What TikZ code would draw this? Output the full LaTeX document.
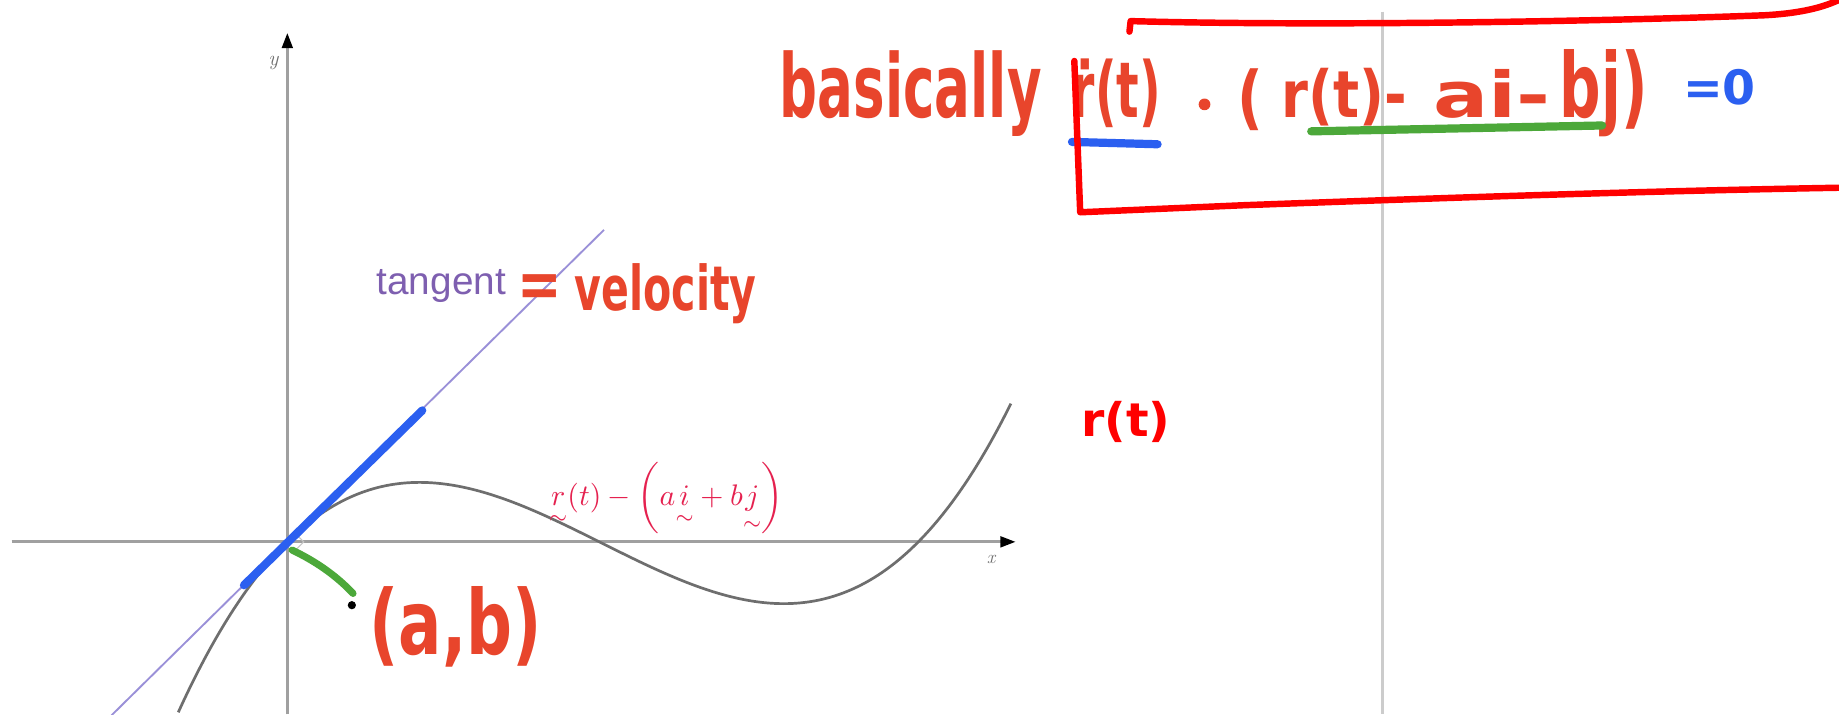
\documentclass[tikz,border=0pt]{standalone}
\usepackage{amsmath}
\usepackage{graphicx}
\usepackage{fontspec}
\usetikzlibrary{arrows.meta}
\newfontfamily\handfont{DejaVu Sans}
\newfontfamily\arialfont{Liberation Sans}
\definecolor{handred}{HTML}{E8452C}
\definecolor{boxred}{HTML}{FF0000}
\definecolor{penblue}{HTML}{2B5FF0}
\definecolor{pengreen}{HTML}{4CA83A}
\definecolor{tanpurple}{HTML}{7E5FB0}
\definecolor{tanline}{HTML}{9A90D8}
\definecolor{axisgray}{HTML}{A0A0A0}
\definecolor{curvegray}{HTML}{6E6E6E}
\definecolor{mathred}{HTML}{E5214F}
\definecolor{gridgray}{HTML}{CCCCCC}
\newcommand{\hw}[3]{\resizebox{#1pt}{#2pt}{\handfont\bfseries #3}}
\tikzset{
  hand/.style={inner sep=0pt, outer sep=0pt, text=handred, anchor=base west},
  axisline/.style={draw=axisgray, line width=2.5pt, -{Triangle[color=black,length=13pt,width=9pt]}},
  penline/.style={line width=7pt, line cap=round, line join=round},
  boxline/.style={draw=boxred, line width=5.5pt, line cap=round, line join=round},
}
\begin{document}
\begin{tikzpicture}[x=1pt,y=-1pt]
\useasboundingbox (0,0) rectangle (1568,609);
\fill[white] (0,0) rectangle (1568,609);
% grid line
\draw[gridgray, line width=2.5pt] (1179,10) -- (1179,609);
% axes
\coordinate (O) at (245,462);
\coordinate (xl) at (10,462);
\coordinate (xr) at (866,462);
\coordinate (yb) at (245,609);
\coordinate (yt) at (245,28);
\draw[axisline] (xl) -- (xr);
\draw[axisline] (yb) -- (yt);
\node[text=axisgray!70!black, font=\fontsize{16}{18}\selectfont\itshape, inner sep=0] (xlab) at (845,477) {x};
\node[text=axisgray!70!black, font=\fontsize{18}{20}\selectfont\itshape, inner sep=0] (ylab) at (233,54) {y};
% tangent line
\coordinate (t1) at (95,610);
\coordinate (t2) at (515,196);
\draw[tanline, line width=1.6pt] (t1) -- (t2);
% curve
\draw[curvegray, line width=2.3pt] plot[domain=-0.93:6.17, samples=160, smooth] ({245+100*\x},{462-6.9*\x*(\x-2.66)*(\x-5.38)});
% right-angle mark
\draw[axisgray!60, line width=1pt] (252,455) -- (259,462) -- (252,469);
% blue velocity segment
\coordinate (b1) at (208,499);
\coordinate (b2) at (360,350);
\draw[penblue, penline] (b1) -- (b2);
% green segment to (a,b)
\coordinate (g1) at (249,469);
\coordinate (g2) at (301,506);
\draw[pengreen, line width=6pt, line cap=round] (g1) .. controls (268,478) and (286,490) .. (g2);
\fill[black] (300,516) circle (3.5pt);
% labels
\node[text=tanpurple, font=\arialfont\fontsize{33}{38}\selectfont, anchor=base west, inner sep=0] (tangent) at (321,251) {tangent};
\node[hand] (eq1) at (441,262) {\hw{38}{28}{=}};
\node[hand] (velocity) at (490,265) {\hw{155}{40}{velocity}};
\node[hand] (ab) at (315,558) {\hw{147}{58}{(a,b)}};
\node[hand, text=boxred] (rt) at (922,372) {\hw{76}{30}{r(t)}};
\node[text=mathred, inner sep=0] (diff) at (568,425) {\resizebox{200pt}{!}{$\underset{\sim}{r}(t)-\left(a\underset{\sim}{i}+b\underset{\sim}{j}\right)$}};
% top formula
\node[hand] (basically) at (665,100) {\hw{223}{57}{basically}};
\node[hand] (rdot) at (914,100) {\hw{76}{50}{ṙ(t)}};
\fill[handred] (1027,89) circle (5pt);
\node[hand] (lpar) at (1055,104) {\hw{22}{45}{(}};
\node[hand] (rt2) at (1093,100) {\hw{107}{42}{r(t)-}};
\node[hand] (ai) at (1222,100) {\hw{100}{41}{ai-}};
\node[hand] (bj) at (1330,100) {\hw{75}{58}{bj)}};
\node[hand, text=penblue] (eq0) at (1435,89) {\hw{62}{30}{=0}};
% underlines
\draw[penblue, penline] (914,121) -- (987,123);
\draw[pengreen, penline] (1118,112) -- (1366,107);
% red box
\draw[boxline] (963,27) -- (964,18) .. controls (1150,23) and (1400,17) .. (1505,13) .. controls (1540,11) and (1558,5) .. (1572,-2);
\draw[boxline] (916,52) -- (921,181) -- (1060,175) .. controls (1250,168) and (1400,163) .. (1572,160);
\end{tikzpicture}
\end{document}
